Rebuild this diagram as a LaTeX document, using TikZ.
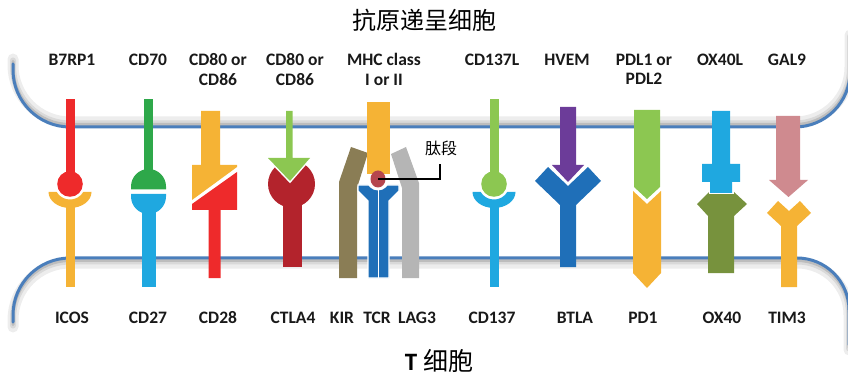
\documentclass[tikz,border=0pt]{standalone}
\usepackage{fontspec}
\usetikzlibrary{shapes.geometric}
\setmainfont{Carlito}
\newfontfamily\cjk{Noto Sans CJK SC}
\definecolor{memblue}{HTML}{4A7EBB}
\definecolor{cred}{HTML}{EE2A2B}
\definecolor{cyel}{HTML}{F5B335}
\definecolor{cgreen}{HTML}{2EA84A}
\definecolor{lgreen}{HTML}{8CC751}
\definecolor{ccyan}{HTML}{1FA8E0}
\definecolor{dred}{HTML}{B3232C}
\definecolor{kirolive}{HTML}{8A7D55}
\definecolor{laggray}{HTML}{B5B5B5}
\definecolor{tblue}{HTML}{1F6FB8}
\definecolor{purp}{HTML}{6C3C99}
\definecolor{ogreen}{HTML}{77923D}
\definecolor{rosy}{HTML}{CF8A8F}
\definecolor{pepred}{HTML}{B5464E}
\begin{document}
\begin{tikzpicture}[x=1pt,y=-1pt,
  lbl/.style={font=\bfseries\fontsize{17.5}{19.5}\selectfont, align=center, inner sep=0pt, text=black!90},
  apcpath/.style={insert path={(13,64) -- (13,70) arc[start angle=180,end angle=90,radius=57]
      -- (795,127) arc[start angle=90,end angle=0,radius=55] -- (850,40)}},
  tcellpath/.style={insert path={(13,322) -- (13,315) arc[start angle=180,end angle=270,radius=57]
      -- (797,258) arc[start angle=270,end angle=360,radius=52] -- (849,345)}},
  membrane/.style={draw=memblue, line width=3, line cap=round},
  pics/ballcup/.style 2 args={code={
    \fill[#1] (-4.5,99) rectangle (4.5,184);
    \fill[#1] (0,184) circle (12.8);
    \fill[#2] (-21.5,192) -- (-13.3,192) arc[start angle=149,end angle=31,radius=15.5]
      -- (21.5,192) arc[start angle=0,end angle=180,x radius=21.5,y radius=16] -- cycle;
    \fill[#2] (-4.5,200) rectangle (4.5,287);
  }}
]
\useasboundingbox (0,0) rectangle (848,379);

% membranes with a soft grey shadow
\begin{scope}[line cap=round]
  \draw[black!7, line width=11, yshift=5pt, apcpath];
  \draw[black!15, line width=6, yshift=3.5pt, apcpath];
  \draw[black!26, line width=3, yshift=2.5pt, apcpath];
  \draw[black!7, line width=11, yshift=-5pt, tcellpath];
  \draw[black!15, line width=6, yshift=-3.5pt, tcellpath];
  \draw[black!26, line width=3, yshift=-2.5pt, tcellpath];
\end{scope}
\path[membrane, apcpath];
\path[membrane, tcellpath];

% titles
\node (apc) at (424,20) {\cjk\fontsize{24}{28}\selectfont 抗原递呈细胞};
\node (tcell) at (439,361) {\fontsize{25}{28}\selectfont\bfseries T \cjk\mdseries 细胞};

% B7RP1 / ICOS and CD137L / CD137
\pic at (70,0) {ballcup={cred}{cyel}};
\pic at (494,0) {ballcup={lgreen}{ccyan}};

% CD70 / CD27
\fill[cgreen] (144,99) rectangle (153,188);
\fill[cgreen] (131,189.5) -- (131,186.5) arc[start angle=180,end angle=360,radius=17.5] -- (166,189.5) -- cycle;
\fill[ccyan] (131,194) -- (166,194) -- (166,196.5) arc[start angle=0,end angle=180,radius=17.5] -- cycle;
\fill[ccyan] (141.5,205) rectangle (155.5,287);

% CD80 or CD86 / CD28
\fill[cyel] (201,111) -- (220,111) -- (220,165) -- (237,165) -- (237,167) -- (192,200) -- (192,165) -- (201,165) -- cycle;
\fill[cred] (237,172) -- (237,210) -- (220.5,210) -- (220.5,278) -- (208.5,278) -- (208.5,210) -- (192,210) -- (192,204) -- cycle;

% CD80 or CD86 / CTLA4
\fill[dred] (291.5,184) circle (23.5);
\fill[dred] (282.5,195) rectangle (301.5,267);
\draw[white, line width=3] (268,158) -- (290,181) -- (310,158);
\fill[lgreen] (286,111) -- (292.5,111) -- (292.5,158) -- (310,158) -- (290,181) -- (268,158) -- (286,158) -- cycle;

% KIR, TCR with MHC and peptide, LAG3
\fill[kirolive] (339,278) -- (339,182) -- (351,147) -- (368,153) -- (357,188) -- (357,278) -- cycle;
\fill[laggray] (402,278) -- (402,188) -- (391,154) -- (406,147) -- (419,183) -- (419,278) -- cycle;
\filldraw[fill=tblue, draw=white, line width=1.2] (358,185) -- (399,185) -- (399,191) -- (389,201) -- (389,278) -- (368,278) -- (368,201) -- (358,191) -- cycle;
\draw[white, line width=1] (378.5,190) -- (378.5,278);
\fill[white] (378,179) circle (11.5);
\fill[cyel] (367,102) rectangle (390,174);
\node[ellipse, fill=pepred, minimum width=15, minimum height=17, inner sep=0pt] (pep) at (378,179) {};
\node[font=\cjk\fontsize{16}{18}\selectfont, inner sep=0pt, inner ysep=8pt] (peplabel) at (441,148) {肽段};
\coordinate (pepbend) at (440,179);
\draw[black, line width=1.5] (pep.center) -- (pepbend) -- (pepbend |- peplabel.south);

% HVEM / BTLA
\fill[tblue] (535,181) -- (548,167) -- (568,186) -- (588,167) -- (601,181) -- (576,205) -- (576,267) -- (560,267) -- (560,205) -- cycle;
\draw[white, line width=3] (552,165) -- (568,182) -- (584,165);
\fill[purp] (560,107) -- (576,107) -- (576,165) -- (584,165) -- (568,182) -- (552,165) -- (560,165) -- cycle;

% PDL1 or PDL2 / PD1
\fill[lgreen] (634,110) -- (660,110) -- (660,187) -- (647,199) -- (634,187) -- cycle;
\fill[cyel] (633,191) -- (647,204) -- (661,191) -- (661,273) -- (647,288) -- (633,273) -- cycle;

% OX40L / OX40
\fill[ogreen] (697,204) -- (709,192) -- (734,192) -- (747,204) -- (734,216) -- (734,273) -- (708,273) -- (708,216) -- cycle;
\draw[white, line width=3] (710,182) -- (710,193) -- (732,193) -- (732,182);
\fill[ccyan] (712,111) -- (730,111) -- (730,164) -- (740,164) -- (740,182) -- (732,182) -- (732,193) -- (710,193) -- (710,182) -- (702,182) -- (702,164) -- (712,164) -- cycle;

% GAL9 / TIM3
\fill[cyel] (767,213) -- (778,201) -- (789,211) -- (800,201) -- (811,213) -- (797,226) -- (797,287) -- (781,287) -- (781,226) -- cycle;
\draw[white, line width=2.5] (769,180) -- (788.5,197) -- (808,180);
\fill[rosy] (776,116) -- (800,116) -- (800,180) -- (808,180) -- (788.5,197) -- (769,180) -- (776,180) -- cycle;

% ligand labels
\node[lbl] (lB7RP1) at (72,60) {B7RP1};
\node[lbl] (lCD70) at (148,60) {CD70};
\node[lbl] (lCD80a) at (218,69.5) {CD80 or\\CD86};
\node[lbl] (lCD80b) at (295,69.5) {CD80 or\\CD86};
\node[lbl] (lMHC) at (384,69.5) {MHC class\\I or II};
\node[lbl] (lCD137L) at (492,60) {CD137L};
\node[lbl] (lHVEM) at (567,60) {HVEM};
\node[lbl] (lPDL) at (644,69.5) {PDL1 or\\PDL2};
\node[lbl] (lOX40L) at (720,60) {OX40L};
\node[lbl] (lGAL9) at (787,60) {GAL9};

% receptor labels
\node[lbl] (lICOS) at (72,318) {ICOS};
\node[lbl] (lCD27) at (148,318) {CD27};
\node[lbl] (lCD28) at (218,318) {CD28};
\node[lbl] (lCTLA4) at (293,318) {CTLA4};
\node[lbl] (lKIR) at (342,318) {KIR};
\node[lbl] (lTCR) at (377,318) {TCR};
\node[lbl] (lLAG3) at (417,318) {LAG3};
\node[lbl] (lCD137) at (492,318) {CD137};
\node[lbl] (lBTLA) at (575,318) {BTLA};
\node[lbl] (lPD1) at (643,318) {PD1};
\node[lbl] (lOX40) at (722,318) {OX40};
\node[lbl] (lTIM3) at (787,318) {TIM3};
\end{tikzpicture}
\end{document}
